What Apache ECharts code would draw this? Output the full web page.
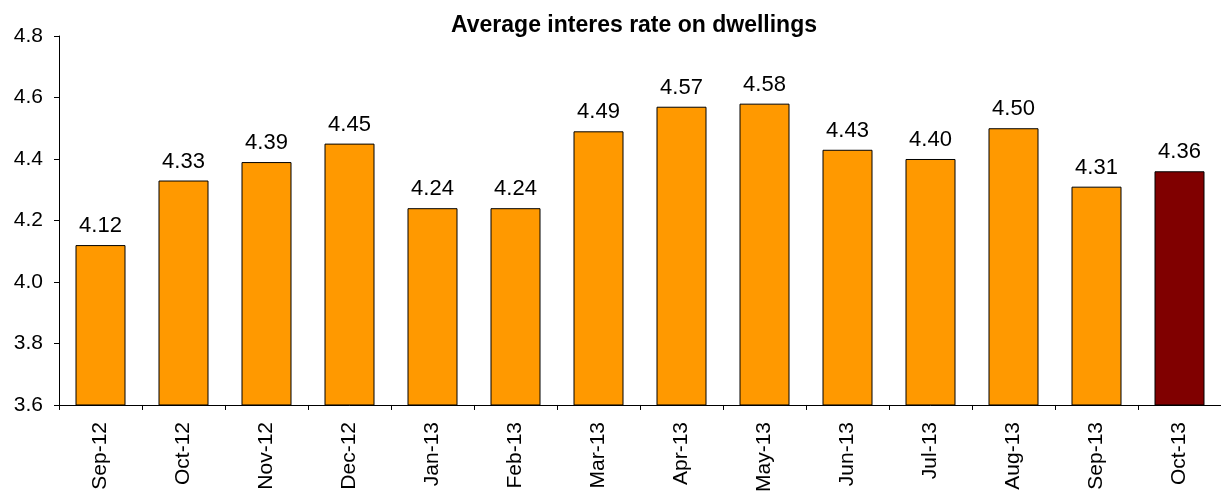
<!DOCTYPE html>
<html>
<head>
<meta charset="utf-8">
<script src="https://cdn.jsdelivr.net/npm/echarts@6/dist/echarts.min.js"></script>
<style>
html,body{margin:0;padding:0;background:#fff;}
#chart{width:1221px;height:495px;}
</style>
</head>
<body>
<div id="chart"></div>
<script>
var categories = ['Sep-12','Oct-12','Nov-12','Dec-12','Jan-13','Feb-13','Mar-13','Apr-13','May-13','Jun-13','Jul-13','Aug-13','Sep-13','Oct-13'];
var values = [4.12, 4.33, 4.39, 4.45, 4.24, 4.24, 4.49, 4.57, 4.58, 4.43, 4.40, 4.50, 4.31, 4.36];
var yTicks = [3.6, 3.8, 4.0, 4.2, 4.4, 4.6, 4.8];
var titleText = 'Average interes rate on dwellings';

var FONT = '"Liberation Sans", Arial, sans-serif';
var barColor = '#FF9900';
var lastColor = '#800000';

var chart = echarts.init(document.getElementById('chart'), null, {renderer: 'canvas'});
chart.setOption({
  animation: false,
  backgroundColor: '#ffffff',
  title: {
    text: titleText,
    left: 446,
    top: 9,
    textStyle: {fontFamily: FONT, fontSize: 23, fontWeight: 'bold', color: '#000'}
  },
  grid: {left: 59, right: -12, top: 36, bottom: 87, containLabel: false},
  xAxis: {
    type: 'category',
    data: categories,
    axisLine: {lineStyle: {color: '#000', width: 1}},
    axisTick: {show: true, length: 5, lineStyle: {color: '#000'}},
    axisLabel: {rotate: 90, margin: 17, fontFamily: FONT, fontSize: 21, color: '#000', interval: 0}
  },
  yAxis: {
    type: 'value',
    min: yTicks[0],
    max: yTicks[yTicks.length - 1],
    interval: 0.2,
    splitLine: {show: false},
    axisLine: {show: true, lineStyle: {color: '#000', width: 1}},
    axisTick: {show: true, length: 5, lineStyle: {color: '#000'}},
    axisLabel: {margin: 16, fontFamily: FONT, fontSize: 21, color: '#000',
      formatter: function (v) { return v.toFixed(1); }}
  },
  series: [{
    type: 'bar',
    data: values.map(function (v, i) {
      return {value: v, itemStyle: {color: i === values.length - 1 ? lastColor : barColor}};
    }),
    barWidth: 50,
    itemStyle: {borderColor: '#000', borderWidth: 1},
    label: {
      show: true,
      position: 'top',
      distance: 8,
      fontFamily: FONT,
      fontSize: 22,
      color: '#000',
      formatter: function (p) { return p.value.toFixed(2); }
    }
  }]
});
</script>
</body>
</html>
